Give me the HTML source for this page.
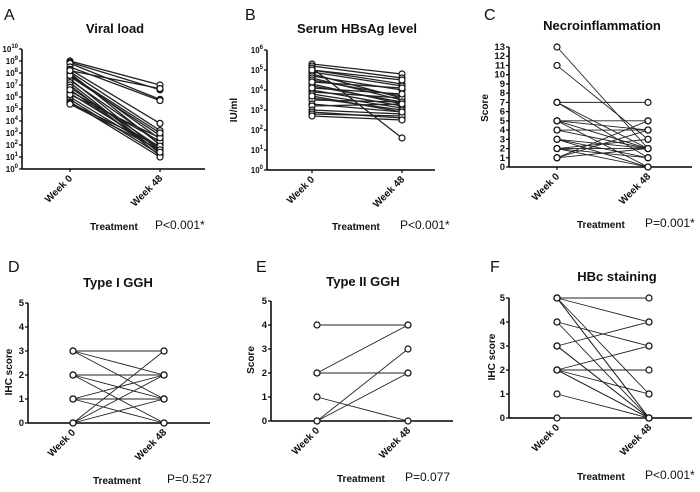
<!DOCTYPE html>
<html><head><meta charset="utf-8"><style>
html,body{margin:0;padding:0;background:#fff}
svg{display:block;font-family:"Liberation Sans",sans-serif}
</style></head><body>
<svg id="fig" width="700" height="492" viewBox="0 0 700 492"></svg>
<script>
// Panel A: viral load (log10 IU/ml)
const aWeek0 = [9,8.9,8.8,8.5,8.3,8.1,8,7.9,7.7,7.5,7.4,7.2,7,6.8,6.5,6.3,6,5.8,5.6,6.2,5.5,5.4,7.8,8.2,6.6];
const aWeek48 = [7,6.6,5.8,5.7,3.8,3.2,2,2.5,2.8,1.5,2.2,1.3,1.1,1.8,2.3,1.7,1.5,1.2,1,2.6,1.9,1.6,3,6.7,1.4];
// Panel B: serum HBsAg (log10 IU/ml)
const bWeek0 = [5.3,5.2,5.1,5,4.9,4.8,4.7,4.6,4.5,4.3,4.2,4,3.9,3.8,3.6,3.5,3.3,3.2,3,2.9,2.8,2.7,4.4,4.1,3.7,5];
const bWeek48 = [4.8,4.6,1.6,4.3,4.2,3.6,4,3.5,3.7,3.3,3.4,3.2,3.6,3.1,3,3.4,2.9,3.3,2.8,2.6,2.7,2.5,4.1,3.8,2.9,4.5];
// Panel C: necroinflammation score
const cWeek0 = [13,11,7,7,7,5,5,5,5,4,4,3,3,2,2,2,1,1,1,3,2];
const cWeek48 = [2,3,7,2,1,5,4,2,0,4,2,2,1,2,3,1,4,5,2,0,0];
// Panel D: type I GGH
const dWeek0 = [3,3,3,2,2,2,1,1,1,0,0,0,1];
const dWeek48 = [3,2,1,2,1,0,1,2,0,1,2,3,1];
// Panel E: type II GGH
const eWeek0 = [4,2,2,1,0,0];
const eWeek48 = [4,4,2,0,3,2];
// Panel F: HBc staining
const fWeek0 = [5,5,5,5,5,4,4,3,3,3,2,2,2,2,2,1,0];
const fWeek48 = [5,4,0,0,1,3,0,0,4,0,3,2,1,0,0,0,0];
const categories = ["Week 0","Week 48"];

const NS="http://www.w3.org/2000/svg";
const svg=document.getElementById('fig');
function mk(tag,attrs,parent){const e=document.createElementNS(NS,tag);for(const k in attrs)e.setAttribute(k,attrs[k]);(parent||svg).appendChild(e);return e;}

const panels=[
 {id:'a',letter:'A',lx:4,ly:20,title:'Viral load',tx:115,ty:33,ax:22,x0:70,x1:160,xe:205,ytop:49,ybot:169,min:0,max:10,log:true,ylabel:null,w0:aWeek0,w48:aWeek48,trx:90,try_:230,p:'P<0.001*',px:155},
 {id:'b',letter:'B',lx:245,ly:20,title:'Serum HBsAg level',tx:357,ty:33,ax:267,x0:312,x1:402,xe:435,ytop:50,ybot:170,min:0,max:6,log:true,ylabel:'IU/ml',ylx:237,yly:110,w0:bWeek0,w48:bWeek48,trx:332,try_:230,p:'P<0.001*',px:400},
 {id:'c',letter:'C',lx:484,ly:20,title:'Necroinflammation',tx:602,ty:30,ax:509,x0:557,x1:648,xe:692,ytop:47,ybot:167,min:0,max:13,log:false,ylabel:'Score',ylx:488,yly:108,w0:cWeek0,w48:cWeek48,trx:577,try_:228,p:'P=0.001*',px:645},
 {id:'d',letter:'D',lx:8,ly:272,title:'Type I GGH',tx:118,ty:287,ax:28,x0:73,x1:164,xe:210,ytop:303,ybot:423,min:0,max:5,log:false,ylabel:'IHC score',ylx:12,yly:372,w0:dWeek0,w48:dWeek48,trx:93,try_:484,p:'P=0.527',px:167},
 {id:'e',letter:'E',lx:256,ly:272,title:'Type II GGH',tx:363,ty:286,ax:271,x0:317,x1:408,xe:453,ytop:301,ybot:421,min:0,max:5,log:false,ylabel:'Score',ylx:254,yly:360,w0:eWeek0,w48:eWeek48,trx:337,try_:482,p:'P=0.077',px:405},
 {id:'f',letter:'F',lx:490,ly:272,title:'HBc staining',tx:617,ty:281,ax:509,x0:557,x1:649,xe:692,ytop:298,ybot:418,min:0,max:5,log:false,ylabel:'IHC score',ylx:495,yly:357,w0:fWeek0,w48:fWeek48,trx:577,try_:480,p:'P<0.001*',px:645}
];

panels.forEach(P=>{
  const g=mk('g',{});
  
  
  const y=v=>P.ybot-(v-P.min)/(P.max-P.min)*(P.ybot-P.ytop);
  const L=mk('text',{x:P.lx,y:P.ly,'font-size':16,fill:'#111'},g);L.textContent=P.letter;
  
  
  const T=mk('text',{x:P.tx,y:P.ty,'font-size':13,'font-weight':'bold','text-anchor':'middle',fill:'#111'},g);T.textContent=P.title;
  
  
  const ya=mk('line',{x1:P.ax,y1:P.ytop,x2:P.ax,y2:P.ybot,stroke:'#000','stroke-width':1.5},g);
  
  
  const xa=mk('line',{x1:P.ax,y1:P.ybot,x2:P.xe,y2:P.ybot,stroke:'#000','stroke-width':1.5},g);
  
  
  for(let v=P.min;v<=P.max;v++){
    const yy=y(v);
    mk('line',{x1:P.ax-3,y1:yy,x2:P.ax,y2:yy,stroke:'#000','stroke-width':1.2},g);
    const t=mk('text',{x:P.ax-4,y:yy+3,'font-size':P.log?8:9.5,'font-weight':'bold','text-anchor':'end',fill:'#111'},g);
    
    
    if(P.log){
      const a=mk('tspan',{},t);a.textContent='10';
      const b=mk('tspan',{dy:-4,'font-size':6},t);b.textContent=String(v);
    } else t.textContent=String(v);
  }
  [P.x0,P.x1].forEach((xx,i)=>{
    mk('line',{x1:xx,y1:P.ybot,x2:xx,y2:P.ybot+3,stroke:'#000','stroke-width':1.2},g);
    const t=mk('text',{x:xx+3,y:P.ybot+10,'font-size':10,'font-weight':'bold','text-anchor':'end',fill:'#111',transform:`rotate(-45 ${xx+3} ${P.ybot+10})`},g);
    t.textContent=categories[i];
    
    
  });
  if(P.ylabel){
    const t=mk('text',{x:P.ylx,y:P.yly,'font-size':10,'font-weight':'bold','text-anchor':'middle',fill:'#111',transform:`rotate(-90 ${P.ylx} ${P.yly})`},g);
    t.textContent=P.ylabel;
    
    
  }
  const tr=mk('text',{x:P.trx,y:P.try_,'font-size':10,'font-weight':'bold',fill:'#111'},g);tr.textContent='Treatment';
  
  
  const pv=mk('text',{x:P.px,y:P.try_-1,'font-size':12,fill:'#111'},g);pv.textContent=P.p;
  
  
  for(let i=0;i<P.w0.length;i++){
    const ln=mk('line',{x1:P.x0,y1:y(P.w0[i]),x2:P.x1,y2:y(P.w48[i]),stroke:'#222','stroke-width':P.log?1.3:0.9},g);
    
    
  }
  for(let i=0;i<P.w0.length;i++){
    [[P.x0,P.w0[i]],[P.x1,P.w48[i]]].forEach(([xx,v])=>{
      const c=mk('circle',{cx:xx,cy:y(v),r:3,fill:'#fff',stroke:'#111','stroke-width':1.2},g);
      
      
    });
  }
});
</script>
</body></html>
